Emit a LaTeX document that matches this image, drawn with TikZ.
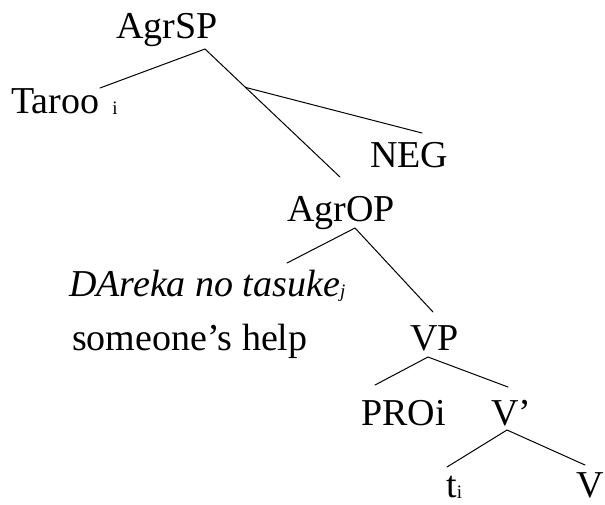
\documentclass[tikz,border=0pt]{standalone}
\usepackage{fontspec}
\setmainfont{Liberation Serif}
\usetikzlibrary{calc}
\tikzset{
  treelabel/.style={anchor=base west, inner sep=0pt, font=\fontsize{38}{42}\selectfont},
  treeedge/.style={line width=1pt, line cap=round},
}
\newcommand{\idx}[1]{\raisebox{-1.5pt}{\fontsize{19}{19}\selectfont #1}}

\begin{document}
\begin{tikzpicture}[x=1pt, y=-1pt]
  \useasboundingbox (0,0) rectangle (605,504);
  % labels
  \node[treelabel] (agrsp) at (116,38) {AgrSP};
  \node[treelabel] (taroo) at (11,113) {Taroo\hspace{13pt}\idx{i}};
  \node[treelabel] (neg) at (370,167) {NEG};
  \node[treelabel] (agrop) at (287,221) {AgrOP};
  \node[treelabel] (dareka) at (69,296) {\itshape DAreka no tasuke\idx{j}};
  \node[treelabel] (gloss) at (72,350) {someone’s help};
  \node[treelabel] (vp) at (410,350) {VP};
  \node[treelabel] (pro) at (361,425) {PROi};
  \node[treelabel] (vbar) at (491,425) {V’};
  \node[treelabel] (trace) at (446,497) {t\idx{i}};
  \node[treelabel] (verb) at (576,497) {V};
  % branch points
  \coordinate (agrsp-top) at (205,49);
  \coordinate (taroo-top) at (100,88);
  \coordinate (agrop-in) at (340,177);
  \coordinate (neg-fork) at ($(agrsp-top)!0.3!(agrop-in)$);
  \coordinate (neg-top) at (422,133);
  \coordinate (agrop-top) at (355,228);
  \coordinate (dareka-top) at (287,263);
  \coordinate (vp-in) at (433,312);
  \coordinate (vp-top) at (428,357);
  \coordinate (pro-top) at (375,385);
  \coordinate (vbar-in) at (508,387);
  \coordinate (vbar-top) at (507,430);
  \coordinate (trace-top) at (447,467);
  \coordinate (verb-top) at (585,465);
  % edges
  \draw[treeedge] (taroo-top) -- (agrsp-top) -- (agrop-in);
  \draw[treeedge] (neg-fork) -- (neg-top);
  \draw[treeedge] (dareka-top) -- (agrop-top) -- (vp-in);
  \draw[treeedge] (pro-top) -- (vp-top) -- (vbar-in);
  \draw[treeedge] (trace-top) -- (vbar-top) -- (verb-top);
\end{tikzpicture}
\end{document}
